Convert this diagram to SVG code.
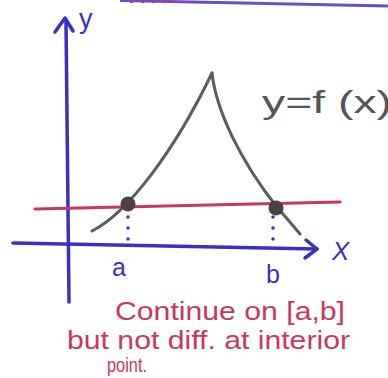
<svg xmlns="http://www.w3.org/2000/svg" width="388" height="378" viewBox="0 0 388 378">
<style>
.ax{fill:none;stroke:#3a2fc4;stroke-width:3.5;stroke-linecap:round;stroke-linejoin:round}
.dot{fill:none;stroke:#3a2fc4;stroke-width:3.5;stroke-linecap:round;stroke-dasharray:0 11}
.curve{fill:none;stroke:#5c5c5c;stroke-width:3;stroke-linecap:round;stroke-linejoin:round}
.pt{fill:#4a4242;stroke:#3a3535;stroke-width:1}
.blue{fill:#3a2fc4;font-family:"Liberation Sans",sans-serif}
.red{fill:#c8385e;font-family:"Liberation Sans",sans-serif}
.gray{fill:#555;font-family:"Liberation Sans",sans-serif}
</style>
<rect width="388" height="378" fill="#fff"/>
<line x1="120" y1="0.5" x2="388" y2="6" stroke="#6a4fc8" stroke-width="3"/>
<path d="M130,2 L188,2" stroke="#c8385e" stroke-width="2" stroke-dasharray="3 8"/>
<g id="axes">
<path class="ax" d="M69,302 L66,22"/>
<path class="ax" d="M55,32 L65,18 L73,31"/>
<path class="ax" d="M13,243 L317,249"/>
<path class="ax" d="M306,240 L317,249 L305,258"/>
</g>
<line x1="35" y1="209" x2="340" y2="202" stroke="#c8385e" stroke-width="3" stroke-linecap="round"/>
<g id="curve">
<path class="curve" d="M92,231 C128,213 175,150 212,73"/>
<path class="curve" d="M212,73 C216,110 240,160 276,206 Q290,222 300,234"/>
</g>
<g id="connectors">
<line class="dot" x1="128" y1="217" x2="128" y2="240"/>
<line class="dot" x1="273" y1="217" x2="273" y2="248"/>
</g>
<g id="pointA"><circle class="pt" cx="128" cy="204" r="7"/></g>
<g id="pointB"><circle class="pt" cx="276" cy="208" r="7"/></g>
<text class="blue" x="79" y="28" font-size="27">y</text>
<text class="blue" x="332" y="260" font-size="26" font-style="italic">X</text>
<text class="blue" x="112" y="276" font-size="25">a</text>
<text class="blue" x="266" y="283" font-size="25">b</text>
<text class="gray" x="262" y="113" font-size="31" textLength="130" lengthAdjust="spacingAndGlyphs">y=f (x)</text>
<text class="red" x="115" y="320" font-size="25" textLength="230" lengthAdjust="spacingAndGlyphs">Continue on [a,b]</text>
<text class="red" x="67" y="349" font-size="25" textLength="283" lengthAdjust="spacingAndGlyphs">but not diff. at interior</text>
<text class="red" x="107" y="372" font-size="20" textLength="40" lengthAdjust="spacingAndGlyphs">point.</text>
</svg>
